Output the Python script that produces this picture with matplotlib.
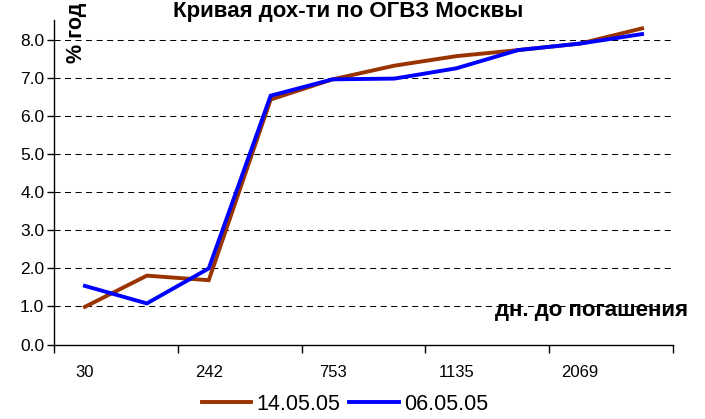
import matplotlib.pyplot as plt
import numpy as np

plt.rcParams['font.family'] = ['Liberation Sans', 'DejaVu Sans']

# 10 maturity buckets, only every other one is labelled on the axis
shown_days = ['30', '242', '753', '1135', '2069']
may14 = [0.99, 1.81, 1.69, 6.44, 6.97, 7.33, 7.58, 7.74, 7.91, 8.31]
may06 = [1.54, 1.08, 2.00, 6.54, 6.97, 6.99, 7.26, 7.74, 7.91, 8.16]
series_names = ['14.05.05', '06.05.05']

W, H = 705, 419
fig = plt.figure(figsize=(W / 100, H / 100), dpi=100)
ax = fig.add_axes([54 / W, (H - 344.5) / H, (673 - 54) / W, (344.5 - 20) / H])

x = np.arange(len(may14))
ax.plot(x, may14, color='#993300', lw=2.8, label=series_names[0], solid_joinstyle='miter')
ax.plot(x, may06, color='#0000ff', lw=2.8, label=series_names[1], solid_joinstyle='miter')

ax.set_xlim(-0.5, len(x) - 0.5)
ax.set_ylim(0, 8.53)
ax.set_yticks(np.arange(0, 9, 1.0))
ax.set_yticklabels([f'{v:.1f}' for v in np.arange(0, 9, 1.0)], fontsize=12.5)
for v in range(1, 9):
    ax.axhline(v, color='black', lw=0.75, ls=(0, (5.8, 4.3)), zorder=0)

# tick marks on category boundaries, labels under every other category
ax.set_xticks(np.arange(-0.5, len(x), 2))
ax.set_xticklabels([])
ax.set_xticks(np.arange(0, len(x), 2), minor=True)
ax.set_xticklabels(shown_days, minor=True, fontsize=12)
ax.tick_params(axis='x', which='minor', length=0, pad=15)
ax.tick_params(axis='x', which='major', length=6, width=1, direction='out')
ax.tick_params(axis='y', length=5, width=1, direction='out', pad=2)

for s in ['top', 'right']:
    ax.spines[s].set_visible(False)
for s in ['left', 'bottom']:
    ax.spines[s].set_linewidth(1)

fig.text(348 / W, 1 - 17 / H, 'Кривая дох-ти по ОГВЗ Москвы', ha='center',
         va='baseline', fontsize=16, fontweight='bold')
fig.text(87 / W, 1 - 63 / H, '% год', rotation=90, ha='right', va='bottom',
         fontsize=15.5, fontweight='bold')
fig.text(688 / W, 1 - 316 / H, 'дн. до погашения', ha='right', va='baseline',
         fontsize=16, fontweight='bold')

fig.legend(loc='center', bbox_to_anchor=(345 / W, 1 - 404 / H), ncol=2,
           frameon=False, fontsize=15.5, handlelength=2.3, handletextpad=0.25,
           columnspacing=0.4, borderaxespad=0)

fig.savefig('out.png', dpi=100)
